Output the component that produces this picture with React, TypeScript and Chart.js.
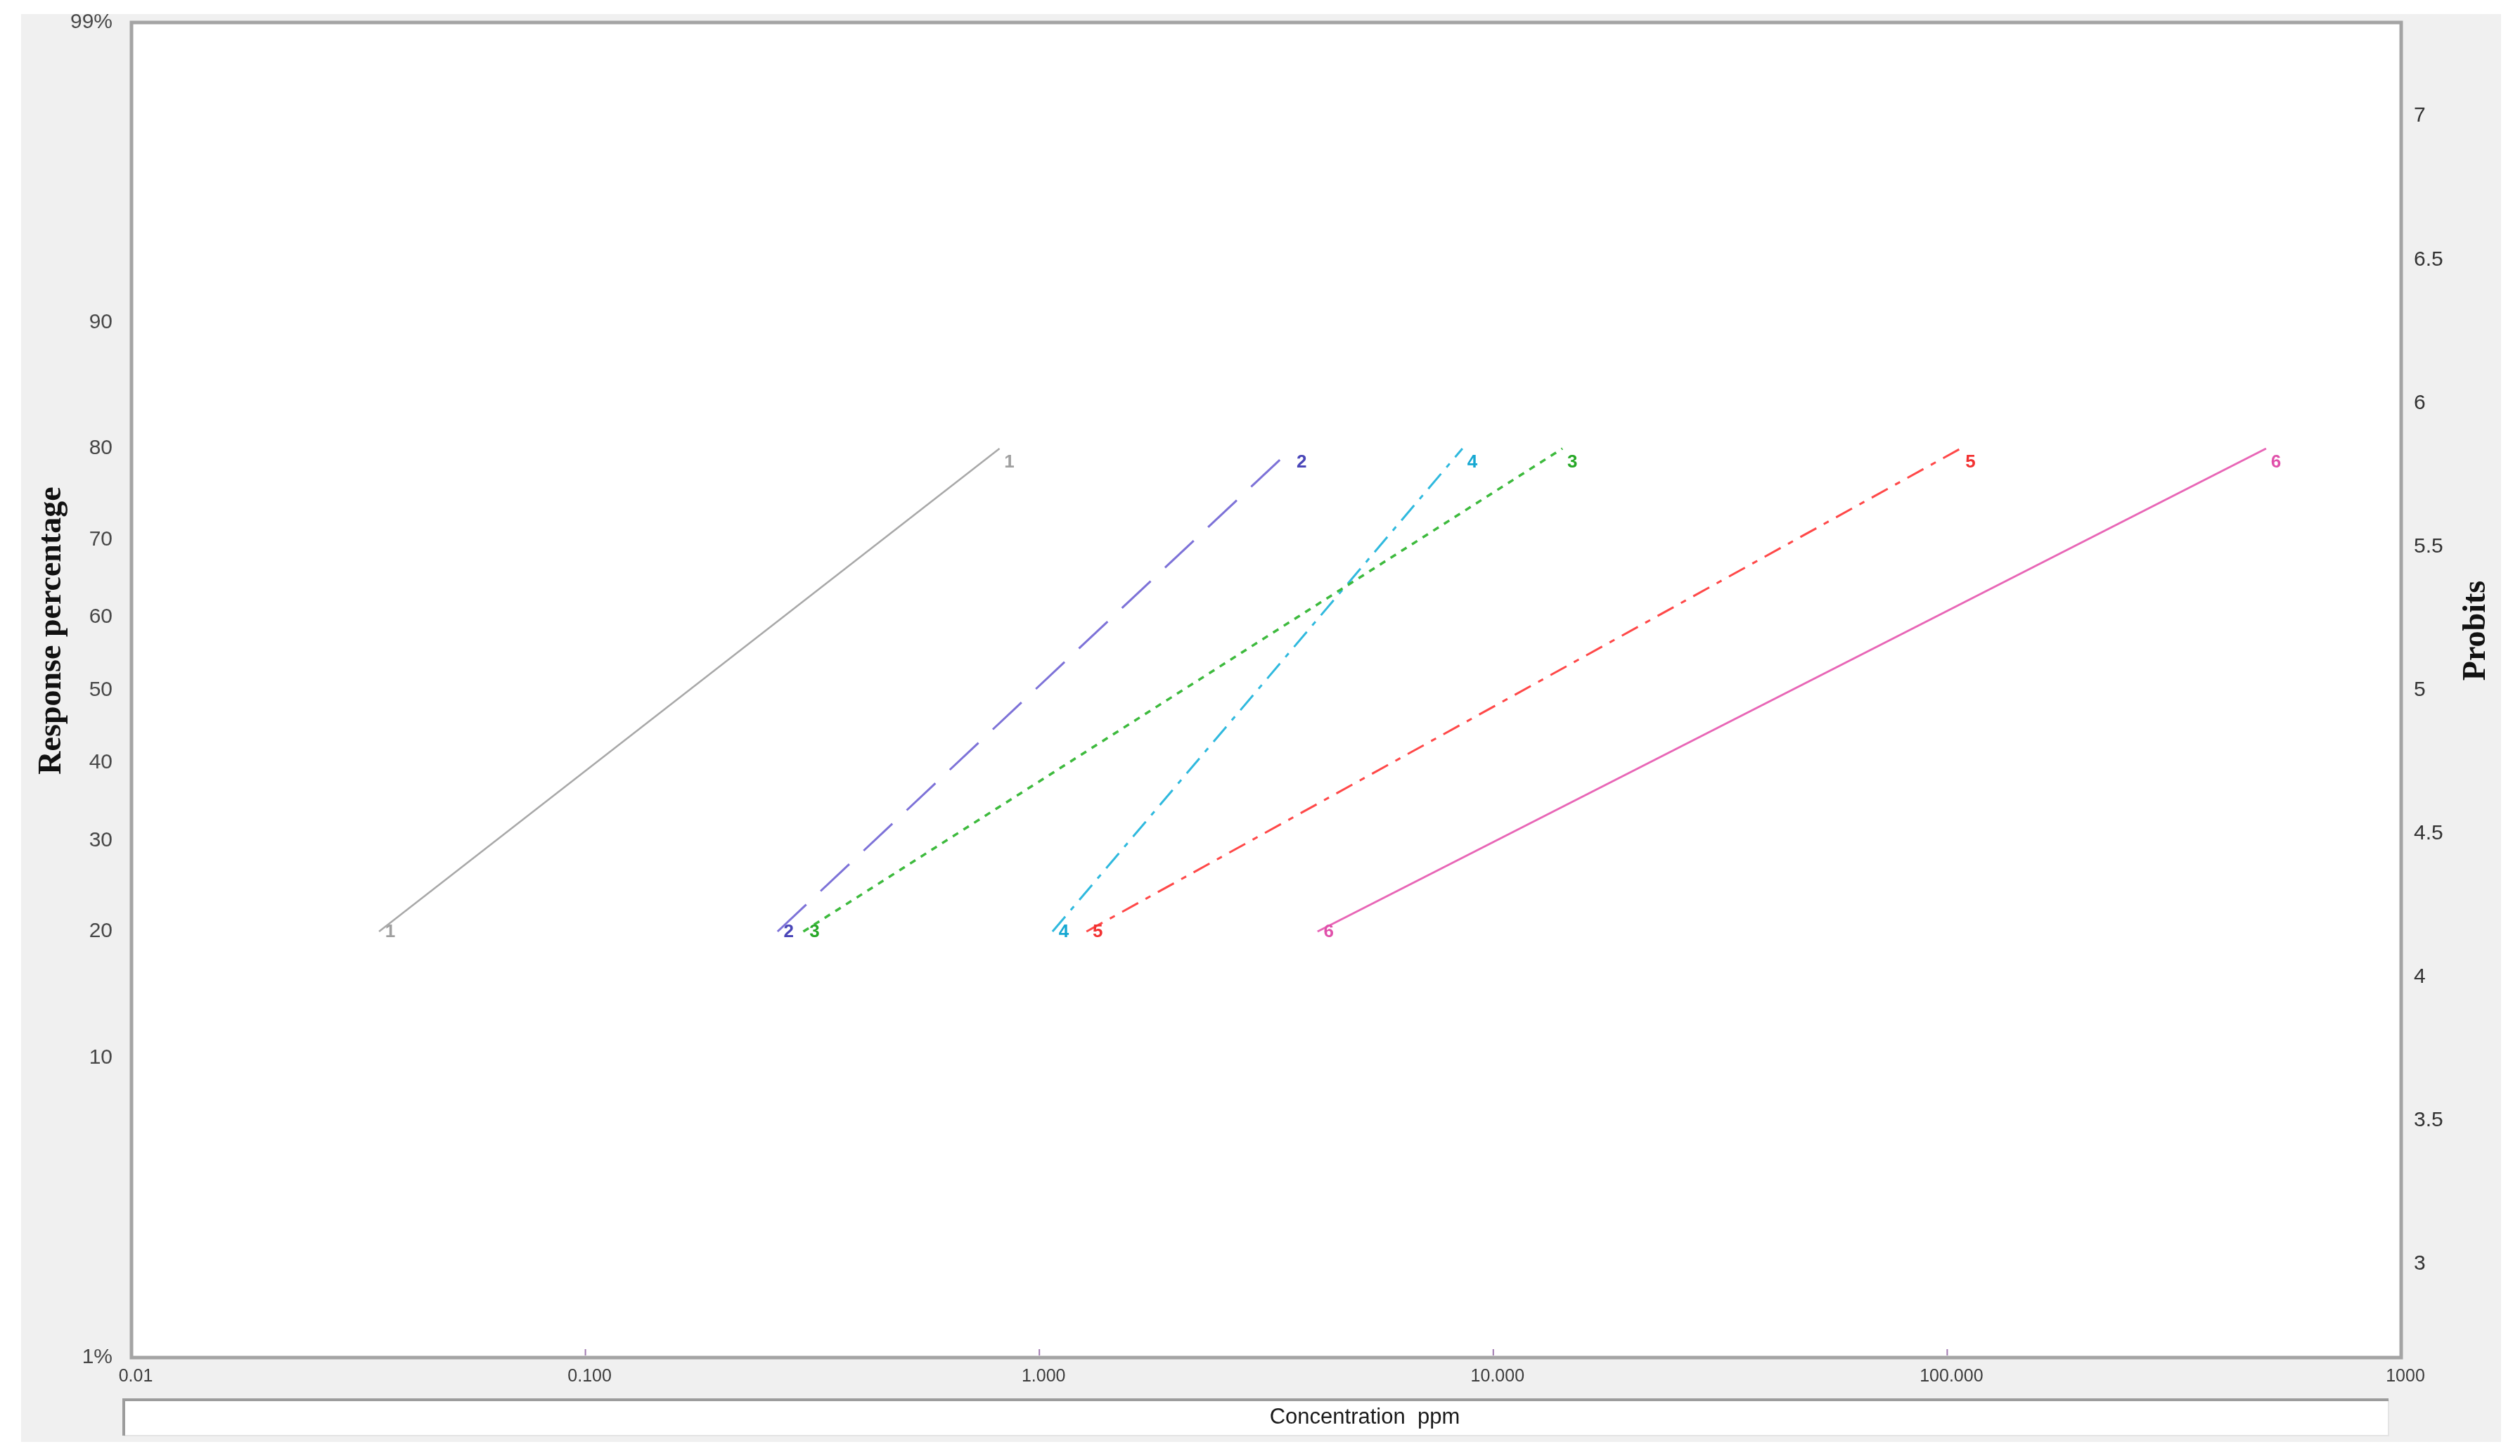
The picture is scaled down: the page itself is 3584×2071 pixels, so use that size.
import React, { useEffect, useRef } from 'react';
import { Chart, registerables } from 'chart.js';

Chart.register(...registerables);

// ---------------- data ----------------
const responsePercent = [20, 80];
const seriesNames = ['1', '2', '3', '4', '5', '6'];
const conc1 = [0.0351, 0.817];
const conc2 = [0.265, 3.6];
const conc3 = [0.302, 14.2];
const conc4 = [1.069, 8.55];
const conc5 = [1.27, 107];
const conc6 = [4.1, 504];

const xTickValues = [0.01, 0.1, 1, 10, 100, 1000];
const xTickLabels = ['0.01', '0.100', '1.000', '10.000', '100.000', '1000'];
const leftTickPercents = [1, 10, 20, 30, 40, 50, 60, 70, 80, 90, 99];
const leftTickLabels = ['1%', '10', '20', '30', '40', '50', '60', '70', '80', '90', '99%'];
const rightTickValues = [3, 3.5, 4, 4.5, 5, 5.5, 6, 6.5, 7];
const rightTickLabels = ['3', '3.5', '4', '4.5', '5', '5.5', '6', '6.5', '7'];

const xTitle = 'Concentration  ppm';
const yTitle = 'Response percentage';
const y2Title = 'Probits';

// ---------------- helpers ----------------
function normInv(p: number): number {
  const a = [-3.969683028665376e1, 2.209460984245205e2, -2.759285104469687e2, 1.38357751867269e2, -3.066479806614716e1, 2.506628277459239];
  const b = [-5.447609879822406e1, 1.615858368580409e2, -1.556989798598866e2, 6.680131188771972e1, -1.328068155288572e1];
  const c = [-7.784894002430293e-3, -3.223964580411365e-1, -2.400758277161838, -2.549671029791131, 4.374664141464968, 2.938163982698783];
  const d = [7.784695709041462e-3, 3.224671290700398e-1, 2.445134137142996, 3.754408661907416];
  const plow = 0.02425;
  const phigh = 1 - plow;
  if (p < plow) {
    const q = Math.sqrt(-2 * Math.log(p));
    return (((((c[0] * q + c[1]) * q + c[2]) * q + c[3]) * q + c[4]) * q + c[5]) / ((((d[0] * q + d[1]) * q + d[2]) * q + d[3]) * q + 1);
  }
  if (p > phigh) {
    const q = Math.sqrt(-2 * Math.log(1 - p));
    return -(((((c[0] * q + c[1]) * q + c[2]) * q + c[3]) * q + c[4]) * q + c[5]) / ((((d[0] * q + d[1]) * q + d[2]) * q + d[3]) * q + 1);
  }
  const q = p - 0.5;
  const r = q * q;
  return ((((((a[0] * r + a[1]) * r + a[2]) * r + a[3]) * r + a[4]) * r + a[5]) * q) / (((((b[0] * r + b[1]) * r + b[2]) * r + b[3]) * r + b[4]) * r + 1);
}
const probit = (pct: number) => 5 + normInv(pct / 100);

const W = 3584;
const H = 2071;
const Y_MIN = probit(1);
const Y_MAX = probit(99);
const SANS = "'Liberation Sans', Arial, Helvetica, sans-serif";
const SERIF = "'Liberation Serif', 'Times New Roman', serif";

const seriesConc = [conc1, conc2, conc3, conc4, conc5, conc6];
const seriesStyle = [
  { color: '#a8a8a8', label: '#a0a0a0', dash: [] as number[], width: 2.5 },
  { color: '#7d72d8', label: '#4a46b8', dash: [56, 28], width: 3 },
  { color: '#3dba3d', label: '#27a827', dash: [9, 9], width: 3.5 },
  { color: '#2fb9de', label: '#16a8d2', dash: [28, 12, 7, 12], width: 3 },
  { color: '#ff4848', label: '#f23232', dash: [26, 12, 8, 12], width: 3 },
  { color: '#e866b6', label: '#e050aa', dash: [] as number[], width: 3 },
];

const decorPlugin = {
  id: 'decor',
  beforeDraw(chart: any) {
    const { ctx, chartArea } = chart;
    ctx.save();
    ctx.fillStyle = '#ffffff';
    ctx.fillRect(0, 0, W, H);
    ctx.fillStyle = '#f0f0f0';
    ctx.fillRect(30, 20, 3527, 2031);
    ctx.fillStyle = '#ffffff';
    ctx.fillRect(chartArea.left, chartArea.top, chartArea.right - chartArea.left, chartArea.bottom - chartArea.top);
    // bottom title box
    const bx = 176, by = 1991, bw = 3221, bh = 51;
    ctx.fillStyle = '#ffffff';
    ctx.fillRect(bx, by, bw, bh);
    ctx.strokeStyle = '#e4e4e4';
    ctx.lineWidth = 2;
    ctx.beginPath();
    ctx.moveTo(bx + bw, by);
    ctx.lineTo(bx + bw, by + bh);
    ctx.lineTo(bx, by + bh);
    ctx.stroke();
    ctx.strokeStyle = '#9c9c9c';
    ctx.lineWidth = 4;
    ctx.beginPath();
    ctx.moveTo(bx, by + bh);
    ctx.lineTo(bx, by);
    ctx.lineTo(bx + bw, by);
    ctx.stroke();
    ctx.restore();
  },
  afterDatasetsDraw(chart: any) {
    const { ctx, chartArea } = chart;
    ctx.save();
    // series number labels at both ends
    ctx.font = `bold 26px ${SANS}`;
    ctx.textAlign = 'center';
    ctx.textBaseline = 'middle';
    chart.data.datasets.forEach((ds: any, i: number) => {
      const meta = chart.getDatasetMeta(i);
      ctx.fillStyle = seriesStyle[i].label;
      meta.data.forEach((pt: any, j: number) => {
        const dx = j === 0 ? 16 : 14;
        const dy = j === 0 ? 1 : 20;
        ctx.fillText(seriesNames[i], pt.x + dx, pt.y + dy);
      });
    });
    // small decade ticks inside bottom of the plot
    const xs = chart.scales.x;
    ctx.strokeStyle = '#a07ab0';
    ctx.lineWidth = 2;
    xTickValues.forEach((v) => {
      const px = xs.getPixelForValue(v);
      if (px <= chartArea.left + 3 || px >= chartArea.right - 3) return;
      ctx.beginPath();
      ctx.moveTo(px, chartArea.bottom - 3);
      ctx.lineTo(px, chartArea.bottom - 12);
      ctx.stroke();
    });
    // plot frame
    ctx.strokeStyle = '#a4a4a4';
    ctx.lineWidth = 5;
    ctx.strokeRect(chartArea.left, chartArea.top, chartArea.right - chartArea.left, chartArea.bottom - chartArea.top);
    ctx.restore();
  },
  afterDraw(chart: any) {
    const { ctx } = chart;
    ctx.save();
    ctx.fillStyle = '#111111';
    ctx.font = `bold 46px ${SERIF}`;
    ctx.textAlign = 'center';
    ctx.textBaseline = 'middle';
    ctx.translate(74, 897);
    ctx.rotate(-Math.PI / 2);
    ctx.fillText(yTitle, 0, 0);
    ctx.restore();

    ctx.save();
    ctx.fillStyle = '#111111';
    ctx.font = `bold 46px ${SERIF}`;
    ctx.textAlign = 'center';
    ctx.textBaseline = 'middle';
    ctx.translate(3522, 897);
    ctx.rotate(-Math.PI / 2);
    ctx.fillText(y2Title, 0, 0);
    ctx.restore();

    ctx.save();
    ctx.fillStyle = '#1a1a1a';
    ctx.font = `31px ${SANS}`;
    ctx.textAlign = 'center';
    ctx.textBaseline = 'middle';
    ctx.fillText(xTitle, 1941, 2016);
    ctx.restore();
  },
};

export default function App() {
  const ref = useRef<HTMLCanvasElement>(null);

  useEffect(() => {
    if (!ref.current) return;
    const datasets = seriesConc.map((conc, i) => ({
      label: seriesNames[i],
      data: conc.map((c, j) => ({ x: c, y: probit(responsePercent[j]) })),
      borderColor: seriesStyle[i].color,
      backgroundColor: seriesStyle[i].color,
      borderWidth: seriesStyle[i].width,
      borderDash: seriesStyle[i].dash,
      pointRadius: 0,
      fill: false,
      tension: 0,
      yAxisID: 'y',
      xAxisID: 'x',
    }));

    const chart = new Chart(ref.current, {
      type: 'line',
      data: { datasets },
      plugins: [decorPlugin],
      options: {
        animation: false,
        responsive: false,
        devicePixelRatio: 1,
        parsing: false as any,
        layout: { padding: { left: 0, right: 0, top: 32, bottom: 0 } },
        plugins: {
          legend: { display: false },
          tooltip: { enabled: false },
        },
        scales: {
          x: {
            type: 'logarithmic',
            position: 'bottom',
            min: 0.01,
            max: 1000,
            afterBuildTicks: (s: any) => {
              s.ticks = xTickValues.map((v) => ({ value: v }));
            },
            afterFit: (s: any) => {
              s.height = 140;
            },
            grid: { display: false, drawTicks: false },
            border: { display: false },
            ticks: {
              autoSkip: false,
              maxRotation: 0,
              padding: 12,
              labelOffset: 6,
              color: '#3c3c3c',
              font: { family: SANS, size: 25 },
              callback: (_v: any, i: number) => xTickLabels[i],
            },
          },
          y: {
            type: 'linear',
            position: 'left',
            min: Y_MIN,
            max: Y_MAX,
            afterBuildTicks: (s: any) => {
              s.ticks = leftTickPercents.map((p) => ({ value: probit(p) }));
            },
            afterFit: (s: any) => {
              s.width = 187;
            },
            grid: { display: false, drawTicks: true, tickLength: 24 },
            border: { display: false },
            ticks: {
              autoSkip: false,
              padding: 3,
              color: '#484848',
              font: { family: SANS, size: 30 },
              callback: (_v: any, i: number) => leftTickLabels[i],
            },
          },
          y2: {
            type: 'linear',
            position: 'right',
            min: Y_MIN,
            max: Y_MAX,
            afterBuildTicks: (s: any) => {
              s.ticks = rightTickValues.map((v) => ({ value: v }));
            },
            afterFit: (s: any) => {
              s.width = 169;
            },
            grid: { display: false, drawTicks: true, tickLength: 15 },
            border: { display: false },
            ticks: {
              autoSkip: false,
              padding: 3,
              color: '#333333',
              font: { family: SANS, size: 30 },
              callback: (_v: any, i: number) => rightTickLabels[i],
            },
          },
        },
      },
    } as any);

    return () => chart.destroy();
  }, []);

  return (
    <div style={{ position: 'fixed', left: 0, top: 0, width: W, height: H, background: '#ffffff' }}>
      <canvas ref={ref} width={W} height={H} style={{ display: 'block', width: W, height: H }} />
    </div>
  );
}
